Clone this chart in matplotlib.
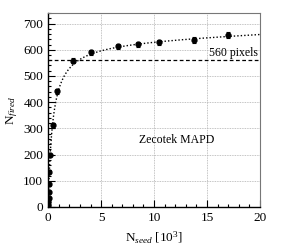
import numpy as np
import matplotlib
matplotlib.use("Agg")
import matplotlib.pyplot as plt
from matplotlib.ticker import MultipleLocator

plt.rcParams["font.family"] = ["Liberation Serif", "DejaVu Serif"]
plt.rcParams["mathtext.fontset"] = "custom"
plt.rcParams["mathtext.rm"] = "Liberation Serif"
plt.rcParams["mathtext.it"] = "Liberation Serif:italic"

# ----- data -----
n_seed = [0.008, 0.015, 0.025, 0.04, 0.06, 0.09, 0.13, 0.19, 0.44, 0.88,
          2.34, 4.07, 6.62, 8.51, 10.5, 13.8, 17.0]          # [10^3]
n_fired = [5, 12, 22, 35, 57, 88, 135, 198, 311, 441,
           559, 590, 613, 621, 628, 637, 656]
n_err = [2, 2, 3, 3, 4, 4, 5, 5, 8, 8,
         8, 9, 10, 10, 10, 11, 12]
n_pixels = 560


def fit_curve(x, y, w):
    """Weighted fit of y = a*x/(x+b) + c*x, grid over b."""
    x = np.asarray(x)
    y = np.asarray(y)
    w = np.asarray(w)
    best = None
    for b in np.linspace(0.05, 3.0, 600):
        A = np.column_stack([x / (x + b), x])
        coef = np.linalg.lstsq(A * w[:, None], y * w, rcond=None)[0]
        err = np.sum(((A @ coef - y) * w) ** 2)
        if best is None or err < best[0]:
            best = (err, b, coef)
    return best[1], best[2]


# weight the upper part of the curve, where the shape is set
weights = [0.3 if v < 250 else (3.0 if s > 10 else 1.0)
           for s, v in zip(n_seed, n_fired)]
b, (a, c) = fit_curve(n_seed, n_fired, weights)
xs = np.linspace(0, 20, 800)
ys = a * xs / (xs + b) + c * xs

fig = plt.figure(figsize=(2.83, 2.47), dpi=100)
ax = fig.add_axes([0.170, 0.162, 0.749, 0.785])

ax.plot(xs, ys, color="black", linestyle=(0, (1, 1.5)), linewidth=1.0)
ax.axhline(n_pixels, color="black", linestyle=(0, (3, 2)), linewidth=0.9)
ax.errorbar(n_seed, n_fired, yerr=n_err, fmt="o", color="black",
            markersize=3.5, elinewidth=0.8, capsize=1.5, capthick=0.8)

ax.text(19.8, n_pixels + 5, "560 pixels", ha="right", va="bottom", fontsize=8.5)
ax.text(12.1, 255, "Zecotek MAPD", ha="center", va="center", fontsize=8.5)

ax.set_xlim(0, 20)
ax.set_ylim(0, 740)
ax.xaxis.set_major_locator(MultipleLocator(5))
ax.xaxis.set_minor_locator(MultipleLocator(1))
ax.yaxis.set_major_locator(MultipleLocator(100))
ax.yaxis.set_minor_locator(MultipleLocator(20))
ax.tick_params(which="both", direction="in", top=False, right=False,
               labelsize=9.5, width=0.8)
ax.tick_params(which="major", length=5)
ax.tick_params(which="minor", length=2.5)
ax.grid(True, which="major", color="#b0b0b0", linestyle=(0, (1, 1)), linewidth=0.6)

for side in ["left", "bottom"]:
    ax.spines[side].set_color("black")
    ax.spines[side].set_linewidth(1.0)
for side in ["top", "right"]:
    ax.spines[side].set_color("#777777")
    ax.spines[side].set_linewidth(0.8)

ax.set_xlabel(r"N$_{\mathit{seed}}$ [10$^{3}$]", fontsize=9.5, labelpad=4)
ax.set_ylabel(r"N$_{\mathit{fired}}$", fontsize=9.5, labelpad=2)

fig.savefig("out.png", dpi=100)
